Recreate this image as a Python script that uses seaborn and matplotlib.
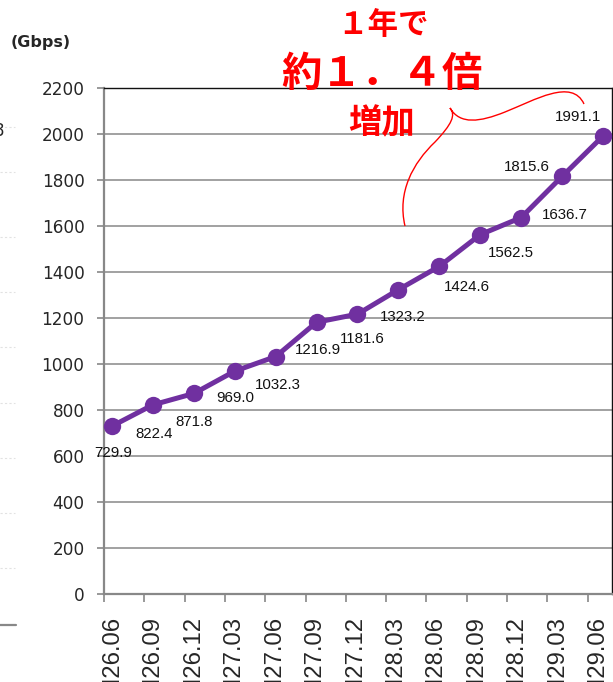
import matplotlib
matplotlib.use("Agg")
import matplotlib.pyplot as plt
import seaborn as sns
import numpy as np
import pandas as pd
from matplotlib.path import Path
from matplotlib.patches import PathPatch
from matplotlib.lines import Line2D

# ---- data ----
periods = ["H26.06", "H26.09", "H26.12", "H27.03", "H27.06", "H27.09", "H27.12",
           "H28.03", "H28.06", "H28.09", "H28.12", "H29.03", "H29.06"]
traffic = [729.9, 822.4, 871.8, 969.0, 1032.3, 1181.6, 1216.9,
           1323.2, 1424.6, 1562.5, 1636.7, 1815.6, 1991.1]
point_labels = ["729.9", "822.4", "871.8", "969.0", "1032.3", "1216.9", "1181.6",
                "1323.2", "1424.6", "1562.5", "1636.7", "1815.6", "1991.1"]
yticks = list(range(0, 2201, 200))
unit_label = "(Gbps)"
note_lines = ["１年で", "約１．４倍", "増加"]

W, H = 613, 682
sns.set_theme(style="white")
plt.rcParams["font.family"] = ["DejaVu Sans"]

fig = plt.figure(figsize=(W / 100, H / 100), dpi=100)

def fx(px):
    return px / W

def fy(py):
    return 1 - py / H

ax = fig.add_axes([fx(104), fy(594), fx(612) - fx(104), fy(88) - fy(594)])

df = pd.DataFrame({"x": np.arange(len(periods)), "y": traffic})
purple = "#7030A0"
sns.lineplot(data=df, x="x", y="y", ax=ax, color=purple, linewidth=3.6,
             marker="o", markersize=12.5, markeredgewidth=0, clip_on=False,
             zorder=5)

ax.set_xlim((104 - 111) / 41, (612 - 111) / 41)
ax.set_ylim(0, 2200)
ax.set_xlabel("")
ax.set_ylabel("")

grid_c = "#888888"
ax.set_yticks(yticks)
ax.set_yticklabels([str(v) for v in yticks], fontsize=12.2)
ax.tick_params(axis="y", length=5, width=1.2, color=grid_c, pad=9, direction="out", left=True)
for v in yticks[1:-1]:
    ax.axhline(v, color=grid_c, linewidth=1.1, zorder=1)

n = len(periods)
label_pos = [0.988 * i for i in range(n)]
tick_pos = [-0.195 + 0.985 * i for i in range(n)]
ax.set_xticks(label_pos)
ax.set_xticklabels(periods, rotation=90, fontsize=17.2, va="top", ha="center",
                   family=["Liberation Sans", "DejaVu Sans"])
ax.tick_params(axis="x", which="major", length=0, pad=16)
ax.set_xticks(tick_pos, minor=True)
ax.tick_params(axis="x", which="minor", length=6, width=1.2, color=grid_c, direction="out", bottom=True)

for s in ["left", "bottom"]:
    ax.spines[s].set_color(grid_c)
    ax.spines[s].set_linewidth(1.6)
for s in ["top", "right"]:
    ax.spines[s].set_color("#111111")
    ax.spines[s].set_linewidth(1.0)

offsets = [(1, 27), (1, 29), (0, 29), (1, 27), (2, 28), (1, 28), (5, 25),
           (4, 27), (28, 21), (31, 18), (44, -3), (-35, -9), (-25, -19)]
for i, (lab, (dx, dy)) in enumerate(zip(point_labels, offsets)):
    ax.annotate(lab, (i, traffic[i]), xytext=(dx * 0.72, -dy * 0.72),
                textcoords="offset points", ha="center", va="center",
                fontsize=10.8, color="#111111", zorder=6, annotation_clip=False,
                family=["Liberation Sans", "DejaVu Sans"])

# unit label
fig.text(fx(41), fy(42), unit_label, fontsize=11.5, fontweight="bold",
         ha="center", va="center")

# red callout text
jp = ["Noto Sans CJK JP", "DejaVu Sans"]
red = "#FF0000"
fig.text(fx(383), fy(25), note_lines[0], fontsize=22, fontweight="bold",
         color=red, ha="center", va="center", family=jp)
fig.text(fx(382), fy(75), note_lines[1], fontsize=29, fontweight="bold",
         color=red, ha="center", va="center", family=jp)
fig.text(fx(382), fy(124), note_lines[2], fontsize=24, fontweight="bold",
         color=red, ha="center", va="center", family=jp)

# red curly bracket
pts = [(405, 226), (397, 192), (413, 163), (435, 142),
       (452, 124), (456, 115), (450, 108),
       (460, 125), (480, 122), (505, 112),
       (535, 100), (572, 78), (584, 104)]
verts = [(fx(x), fy(y)) for x, y in pts]
codes = [Path.MOVETO] + [Path.CURVE4] * (len(verts) - 1)
fig.patches.append(PathPatch(Path(verts, codes), transform=fig.transFigure,
                             fill=False, edgecolor=red, linewidth=1.0))

# cropped fragments of neighbouring chart at the left edge
for y in [127, 172, 237, 292, 347, 403, 458, 513, 568]:
    fig.add_artist(Line2D([fx(0), fx(15)], [fy(y), fy(y)], color="#e2e2e2",
                          linewidth=0.8, linestyle=(0, (2, 2))))
fig.add_artist(Line2D([fx(0), fx(16)], [fy(625), fy(625)], color="#888888",
                      linewidth=1.6))
fig.text(fx(-6), fy(131), "8", fontsize=12, ha="left", va="center")

fig.savefig("out.png", dpi=100)
